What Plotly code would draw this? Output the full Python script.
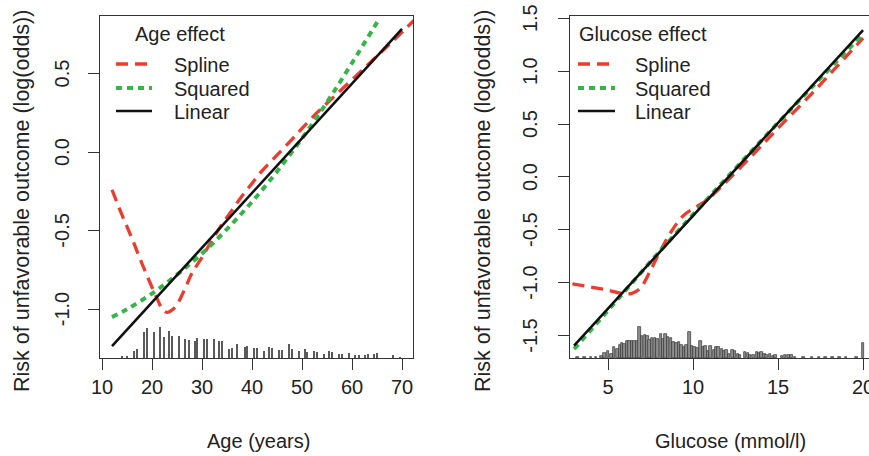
import plotly.graph_objects as go

# ---------------- data: Age panel ----------------
age_spline_x = [12, 14, 16, 18, 20, 21, 22, 23, 24, 25, 26, 27, 28, 30, 32, 34, 36, 38, 40, 42, 45, 48, 50, 53, 56, 60, 64, 68, 72.5]
age_spline_y = [-0.24, -0.40, -0.55, -0.71, -0.86, -0.93, -0.995, -1.02, -1.005, -0.97, -0.91, -0.84, -0.77, -0.67, -0.56, -0.46, -0.37, -0.28, -0.20, -0.12, -0.02, 0.08, 0.15, 0.25, 0.34, 0.46, 0.58, 0.70, 0.84]
age_squared_x = [12, 15, 20, 25, 30, 35, 40, 45, 50, 55, 60, 65.5]
age_squared_y = [-1.05, -1.00, -0.90, -0.78, -0.646, -0.49, -0.317, -0.124, 0.087, 0.317, 0.566, 0.85]
age_linear_x = [12, 70]
age_linear_y = [-1.235, 0.783]

age_hist_x = [14, 15, 16.3, 17, 18.3, 19, 20.3, 21.6, 22.3, 23.4, 24, 25.3, 26.6, 27.3, 28.5, 29,
              30.3, 31, 32.3, 33.4, 34, 35.3, 36, 37, 38.5, 39, 40.4, 41, 42.3, 43.4, 44, 45.4,
              46, 47.3, 48, 49.3, 50.5, 51, 52.3, 53, 54.3, 55.4, 56, 57.4, 58, 59.3, 60.5, 61.3,
              62.5, 63.1, 64.3, 65, 68.1, 69.6]
age_hist_n = [2, 2, 7, 9, 26, 30, 26, 31, 21, 27, 22, 22, 19, 18, 17, 20,
              19, 19, 19, 17, 17, 9, 10, 14, 11, 12, 10, 10, 7, 11, 10, 8,
              8, 14, 9, 7, 9, 6, 7, 6, 4, 7, 6, 4, 4, 5, 3, 3,
              3, 4, 4, 5, 3, 1]

# ---------------- data: Glucose panel ----------------
glu_spline_x = [2.9, 4, 5, 5.8, 6.4, 6.9, 7.5, 8.1, 8.7, 9.4, 10, 10.8, 11.8, 13.4, 15, 17, 18.5, 20]
glu_spline_y = [-1.01, -1.04, -1.07, -1.10, -1.10, -1.05, -0.88, -0.69, -0.52, -0.37, -0.30, -0.22, -0.07, 0.19, 0.46, 0.79, 1.05, 1.31]
glu_squared_x = [3, 5, 8, 11, 14, 17, 20]
glu_squared_y = [-1.625, -1.26, -0.71, -0.18, 0.34, 0.85, 1.35]
glu_linear_x = [3, 20]
glu_linear_y = [-1.593, 1.387]

glu_hist_x = [3.2, 3.6, 4.0, 4.3, 4.6, 4.80, 5.00, 5.20, 5.35, 5.55, 5.69, 5.82, 5.98, 6.14, 6.27, 6.41,
              6.57, 6.73, 6.86, 7.00, 7.16, 7.31, 7.45, 7.59, 7.75, 7.90, 8.10, 8.24, 8.37, 8.53,
              8.69, 8.84, 9.02, 9.16, 9.31, 9.47, 9.61, 9.80, 9.94, 10.10, 10.25, 10.45, 10.59,
              10.73, 10.88, 11.04, 11.24, 11.37, 11.49, 11.69, 11.84, 11.98, 12.12, 12.31, 12.47,
              12.63, 12.77, 13.06, 13.22, 13.35, 13.55, 13.75, 13.88, 14.04, 14.20, 14.33, 14.53,
              14.73, 14.86, 15.22, 15.41, 15.61, 15.80, 16.0, 16.5, 17.0, 17.4, 17.8, 18.2, 18.6,
              19.0, 19.6, 20.0]
glu_hist_n = [1, 1, 1, 1.5, 2, 5, 7, 4, 11, 9, 13, 15, 14, 17, 17, 17,
              17, 17, 31, 22, 23, 22, 18, 20, 20, 19, 24, 19, 24, 21,
              20, 16, 15, 16, 13, 11, 13, 26, 12, 11, 10, 17, 11,
              12, 7, 12, 8, 11, 11, 9, 7, 8, 4, 8, 7,
              4, 3, 6, 5, 3, 3, 6, 5, 6, 4, 3, 4,
              2, 3, 2, 3, 3, 3, 1, 1, 1, 1.5, 1, 1.5, 1,
              1, 1, 15]

age_xticks = [10, 20, 30, 40, 50, 60, 70]
age_yticks = [-1.0, -0.5, 0.0, 0.5]
glu_xticks = [5, 10, 15, 20]
glu_yticks = [-1.5, -1.0, -0.5, 0.0, 0.5, 1.0, 1.5]

series_names = ["Spline", "Squared", "Linear"]
panel_titles = ["Age effect", "Glucose effect"]
x_titles = ["Age (years)", "Glucose (mmol/l)"]
y_title = "Risk of unfavorable outcome (log(odds))"

RED = "#ee3b2f"
GREEN = "#36b548"
BLACK = "#111111"
FONT = "Liberation Sans, Arial, sans-serif"
TXT = "#222222"
W, H = 869, 456

styles = [dict(color=RED, width=3.3, dash="12px,7px"),
          dict(color=GREEN, width=4, dash="6px,5px"),
          dict(color=BLACK, width=2.6)]


def px(x):
    return x / W


def py(y):
    return 1 - y / H


fig = go.Figure()

# histograms (on hidden overlay axes)
fig.add_trace(go.Bar(x=age_hist_x, y=age_hist_n, width=0.4, xaxis="x", yaxis="y3",
                     marker=dict(color="#5a5a5a", line=dict(width=0)),
                     showlegend=False, hoverinfo="skip"))
fig.add_trace(go.Bar(x=glu_hist_x, y=glu_hist_n, width=0.15, xaxis="x2", yaxis="y4",
                     marker=dict(color="#8e8e8e", line=dict(color="#333333", width=0.7)),
                     showlegend=False, hoverinfo="skip"))

age_series = [(age_spline_x, age_spline_y), (age_squared_x, age_squared_y), (age_linear_x, age_linear_y)]
glu_series = [(glu_spline_x, glu_spline_y), (glu_squared_x, glu_squared_y), (glu_linear_x, glu_linear_y)]
for (xs, ys), name, st in zip(age_series, series_names, styles):
    fig.add_trace(go.Scatter(x=xs, y=ys, mode="lines", name=name, showlegend=False,
                             line=dict(shape="spline", **st), xaxis="x", yaxis="y"))
for (xs, ys), name, st in zip(glu_series, series_names, styles):
    fig.add_trace(go.Scatter(x=xs, y=ys, mode="lines", name=name, showlegend=False,
                             line=dict(shape="spline", **st), xaxis="x2", yaxis="y2"))

ydom = [py(358), py(16)]

axis_common = dict(showgrid=False, zeroline=False, showline=True, linecolor="#333333", linewidth=1,
                   ticks="outside", ticklen=11, tickwidth=1, tickcolor="#333333", automargin=False,
                   tickfont=dict(family=FONT, size=20, color=TXT))

fig.update_layout(
    width=W, height=H, margin=dict(l=0, r=0, t=0, b=0, autoexpand=False),
    paper_bgcolor="white", plot_bgcolor="white", showlegend=False, bargap=0,
    xaxis=dict(domain=[px(100), px(413)], range=[9.6, 72.2], tickvals=age_xticks, mirror=True,
               anchor="y", ticklabelstandoff=0, **axis_common),
    yaxis=dict(domain=ydom, range=[-1.31, 0.865], tickvals=age_yticks, mirror=True,
               anchor="x", showticklabels=False, **axis_common),
    xaxis2=dict(domain=[px(570), 1.0], range=[2.76, 20.35], tickvals=glu_xticks, mirror=True,
                anchor="y2", ticklabelstandoff=0, ticklabeloverflow="allow", **axis_common),
    yaxis2=dict(domain=ydom, range=[-1.71, 1.52], tickvals=glu_yticks,
                anchor="x2", showticklabels=False, **axis_common),
    yaxis3=dict(overlaying="y", range=[0, 342], visible=False, anchor="x"),
    yaxis4=dict(overlaying="y2", range=[0, 342], visible=False, anchor="x2"),
)

annotations = []
shapes = []
font20 = dict(family=FONT, size=20, color=TXT)

# rotated y tick labels (R style, parallel to axis)
for ticks, yref, xc in [(age_yticks, "y", 62), (glu_yticks, "y2", 530)]:
    for v in ticks:
        annotations.append(dict(text=f"{v:.1f}", x=px(xc), xref="paper", y=v, yref=yref,
                                textangle=-90, showarrow=False, xanchor="center", yanchor="middle",
                                font=font20))

# axis titles
for xc in [22, 483]:
    annotations.append(dict(text=y_title, x=px(xc), y=py(201), xref="paper", yref="paper",
                            textangle=-90, showarrow=False, xanchor="center", yanchor="middle",
                            font=dict(family=FONT, size=21.5, color=TXT)))
for txt, xc in zip(x_titles, [258, 730]):
    annotations.append(dict(text=txt, x=px(xc), y=py(441), xref="paper", yref="paper",
                            showarrow=False, xanchor="center", yanchor="middle", font=font20))

# legends (R style, no box)
for title, tx, sx0, sx1, lx in [(panel_titles[0], 133, 116, 152, 172), (panel_titles[1], 577, 578, 615, 633)]:
    annotations.append(dict(text=title, x=px(tx), y=py(34), xref="paper", yref="paper",
                            showarrow=False, xanchor="left", yanchor="middle", font=font20))
    for name, st, ly in zip(series_names, styles, [65, 89, 112]):
        shapes.append(dict(type="line", xref="paper", yref="paper", x0=px(sx0), x1=px(sx1),
                           y0=py(ly - 1), y1=py(ly - 1), line=st))
        annotations.append(dict(text=name, x=px(lx), y=py(ly), xref="paper", yref="paper",
                                showarrow=False, xanchor="left", yanchor="middle", font=font20))

fig.update_layout(annotations=annotations, shapes=shapes)

fig.write_html("out.html")
